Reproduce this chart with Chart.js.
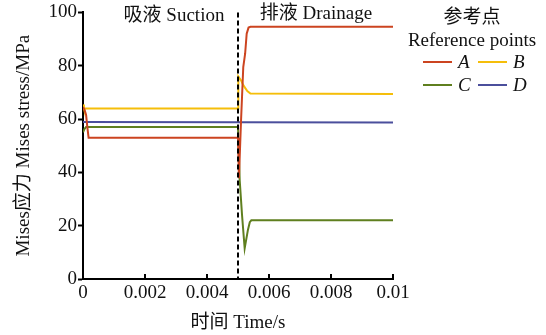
<!DOCTYPE html>
<html>
<head>
<meta charset="utf-8">
<script src="https://cdn.jsdelivr.net/npm/chart.js@4.4.0/dist/chart.umd.min.js"></script>
<style>
  body { margin: 0; background: #fff; }
  canvas { display: block; }
</style>
</head>
<body>
<canvas id="stressChart" width="546" height="335"></canvas>
<script>
// values (time in s, stress in MPa)
const timeA = [0, 0.00005, 0.0001, 0.00014, 0.00018, 0.005, 0.00503, 0.0051, 0.00517, 0.00523, 0.00528, 0.00534, 0.0054, 0.01];
const stressA = [64.5, 63.5, 61.5, 57, 53, 53, 37.8, 60, 79.5, 84.5, 92, 94.3, 94.6, 94.6];

const timeB = [0, 0.00003, 0.005, 0.00501, 0.0051, 0.00517, 0.0053, 0.0054, 0.01];
const stressB = [65.5, 64, 64, 76, 74.5, 72.7, 70.5, 69.6, 69.4];

const timeC = [0, 0.00005, 0.0001, 0.005, 0.005055, 0.00513, 0.005215, 0.00532, 0.00538, 0.00543, 0.01];
const stressC = [55, 56.3, 57, 57, 37, 24, 11.5, 18.4, 21.3, 22, 22];

const timeD = [0, 0.005, 0.01];
const stressD = [58.9, 58.8, 58.7];

const pointNames = ['A', 'B', 'C', 'D'];
const lineColors = ['#CC4420', '#F5BE0A', '#5F7F1F', '#4B4F9C'];
const phaseSwitch = 0.005;
const phaseLabels = ['吸液 Suction', '排液 Drainage'];
const xTicks = [0, 0.002, 0.004, 0.006, 0.008, 0.01];
const yTicks = [0, 20, 40, 60, 80, 100];

const FONT = '"Liberation Serif", "Noto Sans CJK SC", serif';

const pairUp = (ts, vs) => ts.map((t, i) => ({ x: t, y: vs[i] }));
const series = [pairUp(timeA, stressA), pairUp(timeB, stressB), pairUp(timeC, stressC), pairUp(timeD, stressD)];

// dashed switch line, phase labels, inward x ticks and the 2x2 legend
const extras = {
  id: 'extras',
  afterDraw(chart) {
    const ctx = chart.ctx;
    const xs = chart.scales.x;
    const area = chart.chartArea;
    ctx.save();

    // inward ticks on the time axis
    ctx.strokeStyle = '#000';
    ctx.lineWidth = 2;
    xTicks.forEach(t => {
      const px = xs.getPixelForValue(t);
      ctx.beginPath();
      ctx.moveTo(px, area.bottom);
      ctx.lineTo(px, area.bottom - 5);
      ctx.stroke();
    });

    // dashed line where suction switches to drainage
    const sx = xs.getPixelForValue(phaseSwitch);
    ctx.setLineDash([5, 3]);
    ctx.beginPath();
    ctx.moveTo(sx, area.top);
    ctx.lineTo(sx, area.bottom);
    ctx.stroke();
    ctx.setLineDash([]);

    ctx.fillStyle = '#111';
    ctx.font = '19px ' + FONT;
    ctx.textAlign = 'center';
    ctx.textBaseline = 'middle';
    ctx.fillText(phaseLabels[0], 174, 16);
    ctx.fillText(phaseLabels[1], 316, 14);

    // legend
    ctx.fillText('参考点', 472, 18);
    ctx.fillText('Reference points', 472, 41);
    const colX = [423, 478];
    const rowY = [62, 85];
    chart.data.datasets.forEach((ds, i) => {
      const x0 = colX[i % 2];
      const y0 = rowY[Math.floor(i / 2)];
      ctx.strokeStyle = ds.borderColor;
      ctx.lineWidth = 2;
      ctx.beginPath();
      ctx.moveTo(x0, y0);
      ctx.lineTo(x0 + 29, y0);
      ctx.stroke();
      ctx.fillStyle = '#111';
      ctx.textAlign = 'left';
      ctx.font = 'italic 19px ' + FONT;
      ctx.fillText(ds.label, x0 + 35, y0 + 1);
    });
    ctx.restore();
  }
};

new Chart(document.getElementById('stressChart'), {
  type: 'line',
  data: {
    datasets: series.map((pts, i) => ({
      label: pointNames[i],
      data: pts,
      borderColor: lineColors[i],
      backgroundColor: lineColors[i],
      borderWidth: 2,
      pointRadius: 0,
      tension: 0,
      fill: false
    }))
  },
  options: {
    responsive: false,
    animation: false,
    layout: { padding: { left: 0, right: 153, top: 12, bottom: 0 } },
    plugins: { legend: { display: false }, tooltip: { enabled: false } },
    scales: {
      x: {
        type: 'linear',
        min: 0,
        max: 0.01,
        afterBuildTicks: s => { s.ticks = xTicks.map(v => ({ value: v })); },
        afterFit: s => { s.height = 56; },
        grid: { display: true, drawOnChartArea: false, drawTicks: false },
        border: { display: true, color: '#000', width: 2 },
        ticks: {
          color: '#111',
          font: { family: FONT, size: 19 },
          padding: 3,
          maxRotation: 0,
          callback: v => String(+v.toFixed(3))
        },
        title: {
          display: true,
          text: '时间 Time/s',
          color: '#111',
          font: { family: FONT, size: 19 },
          padding: { top: 0, bottom: 1 }
        }
      },
      y: {
        min: 0,
        max: 100,
        afterBuildTicks: s => { s.ticks = yTicks.map(v => ({ value: v })); },
        afterFit: s => { s.width = 83; },
        grid: { display: true, drawOnChartArea: false, drawTicks: true, tickLength: 5, color: '#000', tickWidth: 2 },
        border: { display: true, color: '#000', width: 2 },
        ticks: { color: '#111', font: { family: FONT, size: 19 }, padding: 1 },
        title: {
          display: true,
          text: 'Mises应力 Mises stress/MPa',
          color: '#111',
          font: { family: FONT, size: 19 },
          padding: { top: 13, bottom: 0 }
        }
      }
    }
  },
  plugins: [extras]
});
</script>
</body>
</html>
